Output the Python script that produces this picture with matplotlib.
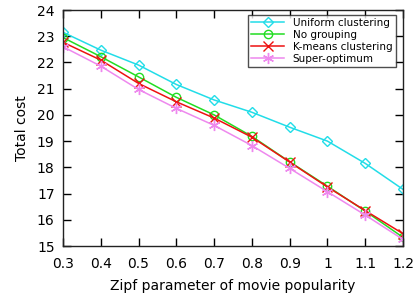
import matplotlib
matplotlib.use('Agg')
import matplotlib.pyplot as plt

# Zipf parameter values and total cost per method
zipf = [0.3, 0.4, 0.5, 0.6, 0.7, 0.8, 0.9, 1.0, 1.1, 1.2]
uniform = [23.15, 22.47, 21.9, 21.16, 20.57, 20.1, 19.53, 19.0, 18.15, 17.16]
no_group = [22.95, 22.22, 21.45, 20.67, 20.0, 19.18, 18.21, 17.28, 16.33, 15.33]
kmeans = [22.77, 22.09, 21.2, 20.5, 19.88, 19.15, 18.2, 17.25, 16.35, 15.47]
super_opt = [22.6, 21.86, 20.97, 20.25, 19.6, 18.83, 17.96, 17.07, 16.18, 15.25]

xticks = [0.3, 0.4, 0.5, 0.6, 0.7, 0.8, 0.9, 1.0, 1.1, 1.2]
xtick_labels = ['0.3', '0.4', '0.5', '0.6', '0.7', '0.8', '0.9', '1', '1.1', '1.2']
yticks = [15, 16, 17, 18, 19, 20, 21, 22, 23, 24]

plt.rcParams['font.family'] = 'DejaVu Sans'

fig = plt.figure(figsize=(4.16, 2.97), dpi=100)
ax = fig.add_axes([0.1514, 0.1717, 0.8174, 0.7946])

ax.plot(zipf, uniform, color='#22dde8', marker='D', markersize=5, mfc='none',
        mew=1.0, lw=1.1, label='Uniform clustering')
ax.plot(zipf, no_group, color='#22dd22', marker='o', markersize=6, mfc='none',
        mew=1.0, lw=1.1, label='No grouping')
ax.plot(zipf, kmeans, color='#ee1111', marker='x', markersize=7,
        mew=1.0, lw=1.1, label='K-means clustering')
ax.plot(zipf, super_opt, color='#ee88ee', marker=(6, 2, 0), markersize=8,
        mew=1.0, lw=1.1, label='Super-optimum')

ax.set_xlim(0.3, 1.2)
ax.set_ylim(15, 24)
ax.set_xticks(xticks)
ax.set_xticklabels(xtick_labels)
ax.set_yticks(yticks)
ax.tick_params(direction='in', top=True, right=True, length=6, width=1,
               labelsize=10)
ax.tick_params(axis='x', pad=8)
ax.tick_params(axis='y', pad=6)
for s in ax.spines.values():
    s.set_linewidth(1.0)
    s.set_color('#222222')

ax.set_xlabel('Zipf parameter of movie popularity', fontsize=10, labelpad=6)
ax.set_ylabel('Total cost', fontsize=10, labelpad=6)

leg = ax.legend(loc='upper right', bbox_to_anchor=(0.978, 0.98),
                borderaxespad=0, fontsize=7.5, frameon=True, fancybox=False,
                edgecolor='#222222', handlelength=3.2,
                labelspacing=0.2, borderpad=0.3)
leg.get_frame().set_linewidth(1.0)

fig.savefig('out.png', dpi=100)
